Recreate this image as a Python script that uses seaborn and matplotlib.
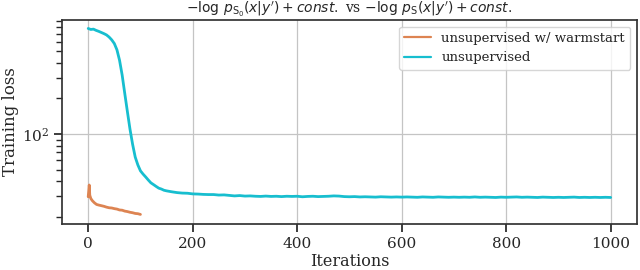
import numpy as np
import pandas as pd
import matplotlib
matplotlib.use("Agg")
import matplotlib.pyplot as plt
import seaborn as sns

# values (training loss per iteration)
blue_iters = [0, 5, 10, 15, 20, 25, 30, 35, 40, 45, 50, 55, 60, 65, 70, 75, 80, 85, 90, 95,
              100, 105, 110, 115, 120, 125, 130, 135, 140, 145, 150, 160, 170, 180, 190,
              200, 210, 220, 230, 240, 250, 260, 270, 280, 290, 300, 310, 320, 330, 340,
              350, 360, 370, 380, 390, 400, 410, 420, 430, 440, 450, 460, 470, 480, 490,
              500, 510, 520, 530, 540, 550, 560, 570, 580, 590, 600, 610, 620, 630, 640,
              650, 660, 670, 680, 690, 700, 710, 720, 730, 740, 750, 760, 770, 780, 790,
              800, 810, 820, 830, 840, 850, 860, 870, 880, 890, 900, 910, 920, 930, 940,
              950, 960, 970, 980, 990, 1000]
blue_vals = [780, 765, 770, 752, 738, 722, 706, 688, 660, 625, 582, 515, 420, 315, 220, 155,
             110, 82, 64, 55, 49, 46, 43.5, 41, 38.8, 37.5, 36.2, 35.0, 34.4, 33.6, 33.2,
             32.6, 32.1, 31.8, 31.7, 31.3, 31.2, 31.0, 30.9, 30.9, 30.6, 30.7, 30.4, 30.1,
             30.3, 30.0, 30.1, 29.9, 29.8, 30.0, 29.8, 29.9, 29.7, 29.9, 29.8, 29.9, 29.6,
             29.8, 29.9, 29.7, 29.8, 29.9, 30.1, 30.0, 29.7, 29.6, 29.7, 29.5, 29.6, 29.5,
             29.4, 29.6, 29.5, 29.4, 29.5, 29.4, 29.5, 29.4, 29.3, 29.5, 29.4, 29.3, 29.5,
             29.4, 29.3, 29.4, 29.3, 29.4, 29.3, 29.5, 29.3, 29.4, 29.3, 29.2, 29.4, 29.3,
             29.4, 29.5, 29.3, 29.4, 29.3, 29.2, 29.4, 29.3, 29.2, 29.3, 29.2, 29.3, 29.4,
             29.2, 29.3, 29.2, 29.3, 29.2, 29.3, 29.2]

orange_iters = [0, 1, 2, 3, 5, 8, 12, 16, 20, 25, 30, 35, 40, 45, 50, 55, 60, 65, 70, 75,
                80, 85, 90, 95, 100]
orange_vals = [29.6, 33.0, 37.2, 30.5, 28.6, 27.4, 26.3, 25.5, 25.2, 24.9, 24.6, 24.2, 23.9,
               23.8, 23.5, 23.3, 22.9, 22.8, 22.4, 22.2, 21.9, 21.7, 21.4, 21.3, 21.0]

labels = ["unsupervised w/ warmstart", "unsupervised"]
colors = ["#dd8452", "#17becf"]

df = pd.concat([
    pd.DataFrame({"iter": orange_iters, "loss": orange_vals, "run": labels[0]}),
    pd.DataFrame({"iter": blue_iters, "loss": blue_vals, "run": labels[1]}),
])

sns.set_theme(style="ticks")
plt.rcParams["font.family"] = ["DejaVu Serif"]
plt.rcParams["mathtext.fontset"] = "dejavusans"

fig, ax = plt.subplots(figsize=(6.4, 2.7), dpi=100)
sns.lineplot(data=df, x="iter", y="loss", hue="run", hue_order=labels,
             palette=dict(zip(labels, colors)), linewidth=2.0, ax=ax)
ax.set_yscale("log")
ax.set_xlim(-50, 1050)
ax.set_ylim(17.4, 920)
ax.set_xticks([0, 200, 400, 600, 800, 1000])
ax.grid(True, which="major", color="#c4c4c4", linewidth=0.9)
ax.tick_params(labelsize=11)
ax.set_xlabel("Iterations", fontsize=11.5, labelpad=1)
ax.set_ylabel("Training loss", fontsize=12, labelpad=2)
ax.set_title(r"$-\log\,p_{\mathrm{S}_0}(x|y^\prime) + const.$ vs "
             r"$-\log\,p_{\mathrm{S}}(x|y^\prime) + const.$", fontsize=10, pad=5)
leg = ax.legend(loc="upper right", fontsize=9.5, frameon=True)
for h in leg.get_lines():
    h.set_linewidth(1.6)
for s in ax.spines.values():
    s.set_color("#333333")

fig.subplots_adjust(left=0.097, right=0.995, top=0.926, bottom=0.17)
fig.savefig("out.png", dpi=100)
